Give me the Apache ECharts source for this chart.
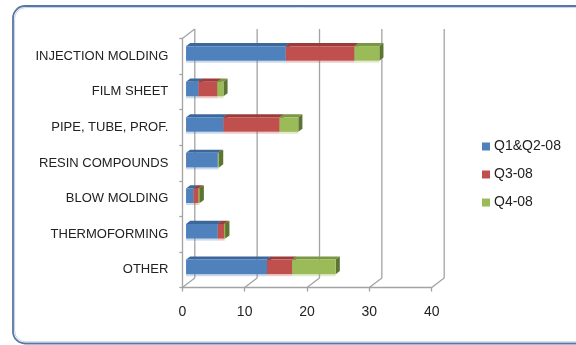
<!DOCTYPE html>
<html>
<head>
<meta charset="utf-8">
<script src="https://cdn.jsdelivr.net/npm/echarts@6/dist/echarts.min.js"></script>
<style>
  html, body { margin: 0; padding: 0; background: #ffffff; }
  #chart { width: 576px; height: 345px; }
</style>
</head>
<body>
<div id="chart"></div>
<script>
// Processing segments, listed from top to bottom
const categories = ['INJECTION MOLDING', 'FILM SHEET', 'PIPE, TUBE, PROF.', 'RESIN COMPOUNDS', 'BLOW MOLDING', 'THERMOFORMING', 'OTHER'];
const seriesNames = ['Q1&Q2-08', 'Q3-08', 'Q4-08'];
const q1q2 = [16, 2, 6, 5.1, 1.2, 5.1, 13];
const q3 = [11, 3, 9, 0, 0.8, 1, 4];
const q4 = [4, 1, 3, 0.2, 0.2, 0.2, 7];
const xTicks = [0, 10, 20, 30, 40];

// Face colours: front, top, side
const palette = [
  { front: '#4F81BD', top: '#3C679B', side: '#2F5580' },
  { front: '#C0504D', top: '#9C3C3A', side: '#7E302E' },
  { front: '#9BBB59', top: '#7A9744', side: '#5C7532' }
];

// Oblique depth of the 3-D box (screen pixels) and where the bars sit in it
const DX = 12.5, DY = -9.5;
const BAR_D0 = 0.3, BAR_D1 = 0.63;

const stacks = [q1q2, q3, q4];
function stackedData(k) {
  return categories.map((c, i) => {
    let start = 0;
    for (let j = 0; j < k; j++) start += stacks[j][i];
    return [start, start + stacks[k][i], i];
  });
}

function barRenderer(col) {
  return function (params, api) {
    const s = api.value(0), e = api.value(1), c = api.value(2);
    if (!(e > s)) return { type: 'group', children: [] };
    const p0 = api.coord([s, c]);
    const p1 = api.coord([e, c]);
    const h = api.size([0, 1])[1] * 0.41;
    const ox = DX * BAR_D0, oy = DY * BAR_D0;
    const dx = DX * (BAR_D1 - BAR_D0), dy = DY * (BAR_D1 - BAR_D0);
    const x0 = p0[0] + ox, x1 = p1[0] + ox;
    const yT = p0[1] + oy - h / 2, yB = yT + h;
    return {
      type: 'group',
      children: [
        { type: 'rect', shape: { x: x0, y: yB, width: x1 - x0, height: 2 },
          style: { fill: col.front, opacity: 0.3 } },
        { type: 'polygon', shape: { points: [[x0, yT], [x1, yT], [x1 + dx, yT + dy], [x0 + dx, yT + dy]] },
          style: { fill: col.top } },
        { type: 'polygon', shape: { points: [[x1, yT], [x1 + dx, yT + dy], [x1 + dx, yB + dy], [x1, yB]] },
          style: { fill: col.side } },
        { type: 'rect', shape: { x: x0, y: yT, width: x1 - x0, height: h },
          style: { fill: col.front } }
      ]
    };
  };
}

// Back wall gridlines, floor diagonals and the left wall outline
function wallRenderer(params, api) {
  const cs = params.coordSys;
  const v = api.value(0);
  const x = api.coord([v, 0])[0];
  const top = cs.y, bottom = cs.y + cs.height;
  const line = { stroke: '#a3a3a3', lineWidth: 1.3 };
  const children = [
    { type: 'line', shape: { x1: x, y1: bottom, x2: x + DX, y2: bottom + DY }, style: line },
    { type: 'line', shape: { x1: x + DX, y1: bottom + DY, x2: x + DX, y2: top + DY }, style: line }
  ];
  if (v === xTicks[0]) {
    children.push({ type: 'line', shape: { x1: x, y1: top, x2: x + DX, y2: top + DY }, style: line });
  }
  return { type: 'group', children: children };
}

const chart = echarts.init(document.getElementById('chart'), null, { renderer: 'canvas' });

const series = [{
  type: 'custom',
  name: 'walls',
  silent: true,
  data: xTicks.map(v => [v, 0]),
  encode: { x: 0, y: 1 },
  renderItem: wallRenderer,
  z: 1
}];
seriesNames.forEach((name, k) => {
  series.push({
    type: 'custom',
    name: name,
    data: stackedData(k),
    encode: { x: [0, 1], y: 2 },
    itemStyle: { color: palette[k].front },
    renderItem: barRenderer(palette[k]),
    z: 2
  });
});

chart.setOption({
  animation: false,
  backgroundColor: '#ffffff',
  textStyle: { fontFamily: 'Liberation Sans, Arial, sans-serif' },
  graphic: [
    { type: 'rect', shape: { x: 13, y: 6, width: 575, height: 337.5, r: 12 },
      style: { fill: 'none', stroke: '#5a76a4', lineWidth: 1.8 } },
    { type: 'rect', shape: { x: 14.6, y: 7.6, width: 572, height: 334.2, r: 11 },
      style: { fill: 'none', stroke: '#c3d1e6', lineWidth: 1 } }
  ],
  grid: { left: 182.3, right: 144.3, top: 38.5, bottom: 57.5 },
  legend: {
    data: seriesNames,
    orient: 'vertical',
    left: 482,
    top: 139.5,
    icon: 'rect',
    itemWidth: 8,
    itemHeight: 8,
    itemGap: 14,
    textStyle: { fontSize: 14, color: '#222222', lineHeight: 14, padding: [0, 0, 0, -1] },
    padding: 0
  },
  xAxis: {
    type: 'value',
    min: 0,
    max: 40,
    interval: 10,
    axisLine: { show: true, lineStyle: { color: '#a3a3a3', width: 1.3 } },
    axisTick: { show: true, length: 4, lineStyle: { color: '#a3a3a3', width: 1.3 } },
    splitLine: { show: false },
    axisLabel: { fontSize: 14, color: '#222222', margin: 18 }
  },
  yAxis: {
    type: 'category',
    data: categories,
    inverse: true,
    axisLine: { show: true, lineStyle: { color: '#a3a3a3', width: 1.3 } },
    axisTick: { show: true, length: 3, lineStyle: { color: '#a3a3a3', width: 1.3 } },
    splitLine: { show: false },
    axisLabel: { fontSize: 13, color: '#222222', margin: 14 }
  },
  series: series
});
</script>
</body>
</html>
